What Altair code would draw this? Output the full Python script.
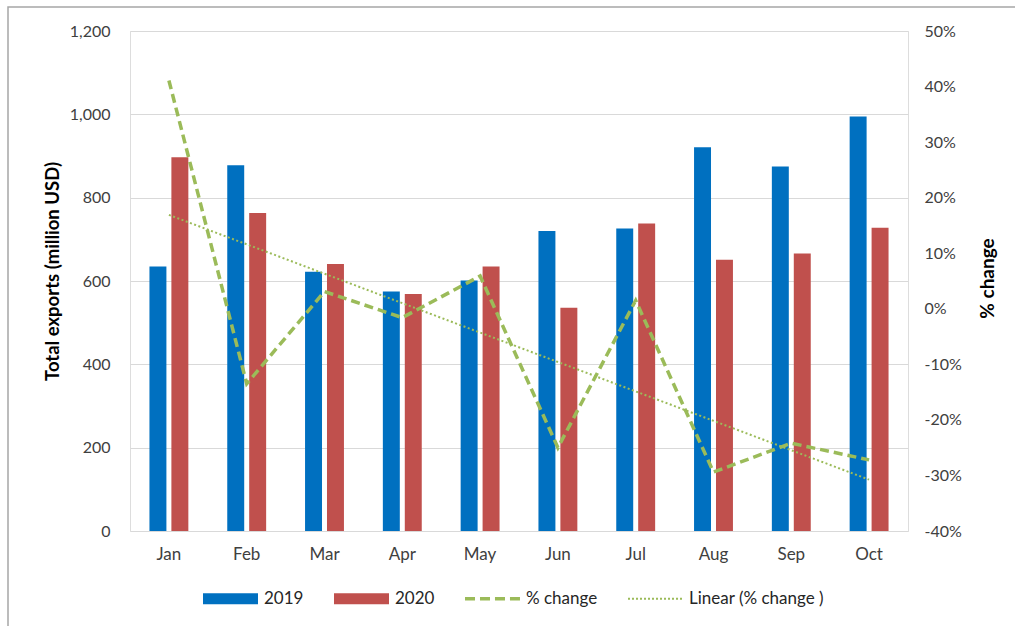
import json
import altair as alt
import pandas as pd

# Monthly exports (million USD) and year-on-year change
months = ["Jan", "Feb", "Mar", "Apr", "May", "Jun", "Jul", "Aug", "Sep", "Oct"]
exports_2019 = [635, 878, 622, 575, 601, 720, 726, 921, 875, 995]
exports_2020 = [897, 763, 641, 569, 635, 536, 738, 651, 666, 728]
pct_change = [0.411, -0.135, 0.031, -0.016, 0.059, -0.250, 0.015, -0.294, -0.242, -0.272]

series_names = ["2019", "2020", "% change", "Linear (% change )"]
series_colors = ["#0070C0", "#C0504D", "#9BBB59", "#9BBB59"]

FONT = "Lato"
TEXT = "#404040"

bars_df = pd.DataFrame({
    "month": months * 2,
    "year": ["2019"] * len(months) + ["2020"] * len(months),
    "value": exports_2019 + exports_2020,
})
pct_df = pd.DataFrame({"month": months, "idx": list(range(1, len(months) + 1)), "pct": pct_change})

x_enc = alt.X(
    "month:N", sort=months, title=None,
    scale=alt.Scale(paddingInner=0.5, paddingOuter=0.25),
    axis=alt.Axis(domain=False, ticks=False, tickSize=0, labelPadding=15, labelAngle=0,
                  labelFontSize=17, labelColor=TEXT, labelFont=FONT),
)

# Legend swatches: a filled block for the bars, dashes and dots for the lines
def rect_path(x0, x1, h):
    return f"M{x0:.3f},{-h:.3f}H{x1:.3f}V{h:.3f}H{x0:.3f}Z"

bar_shape = rect_path(-1, 1, 0.2)
dash_shape = "".join(rect_path(-1 + i * 0.545, -1 + i * 0.545 + 0.364, 0.064) for i in range(4))
dot_shape = "".join(rect_path(-1 + i * 0.1455, -1 + i * 0.1455 + 0.0727, 0.036) for i in range(14))

shape_expr = (
    f"datum.value === '% change' ? '{dash_shape}' : "
    f"(datum.value === 'Linear (% change )' ? '{dot_shape}' : '{bar_shape}')"
)

color_scale = alt.Scale(domain=series_names, range=series_colors)
legend = alt.Legend(
    title=None, orient="none", direction="horizontal", legendX=73, legendY=540,
    symbolSize=3025, labelOffset=6, columnPadding=30, padding=0,
    labelFont=FONT, labelFontSize=17, labelColor="#262626", labelLimit=300,
    symbolType={"expr": shape_expr},
    symbolFillColor={"expr": "scale('color', datum.value)"},
    symbolStrokeWidth=0, symbolOpacity=1,
)

bars = alt.Chart(bars_df).mark_bar().encode(
    x=x_enc,
    xOffset=alt.XOffset("year:N", scale=alt.Scale(paddingInner=0.227, paddingOuter=0)),
    y=alt.Y(
        "value:Q", title="Total exports (million USD)",
        scale=alt.Scale(domain=[0, 1200], nice=False),
        axis=alt.Axis(orient="left", values=[0, 200, 400, 600, 800, 1000, 1200], format=",d",
                      domain=False, ticks=False, tickSize=0, labelPadding=20,
                      grid=True, gridColor="#d9d9d9", gridWidth=1,
                      labelFont=FONT, labelFontSize=16, labelColor=TEXT,
                      titleFont=FONT, titleFontSize=18.5, titleFontWeight="bold", titleColor="#000000",
                      titleAngle=270, titleX=-78, titleY=240, titleAlign="center", titleBaseline="middle"),
    ),
    color=alt.Color("year:N", scale=color_scale, legend=legend),
)

right_axis = alt.Axis(
    orient="right", values=[-0.4, -0.3, -0.2, -0.1, 0, 0.1, 0.2, 0.3, 0.4, 0.5],
    labelExpr="replace(format(datum.value, '.0%'), '\u2212', '-')",
    domain=False, ticks=False, tickSize=0, labelPadding=16, grid=False,
    labelFont=FONT, labelFontSize=16, labelColor=TEXT,
    titleFont=FONT, titleFontSize=19, titleFontWeight="bold", titleColor="#000000",
    titleAngle=270, titleX=79, titleY=247, titleAlign="center", titleBaseline="middle",
)
pct_scale = alt.Scale(domain=[-0.4, 0.5], nice=False)

pct_line = alt.Chart(pct_df).mark_line(strokeWidth=3.5, strokeDash=[9, 5]).encode(
    x=alt.X("month:N", sort=months),
    y=alt.Y("pct:Q", title="% change", scale=pct_scale, axis=right_axis),
    color=alt.datum("% change"),
)

trend = alt.Chart(pct_df).transform_regression(
    "idx", "pct", method="linear"
).transform_calculate(
    month=f"{json.dumps(months)}[round(datum.idx) - 1]"
).mark_line(strokeWidth=2, strokeDash=[2, 2.5]).encode(
    x=alt.X("month:N", sort=months),
    y=alt.Y("pct:Q", title="% change", scale=pct_scale, axis=right_axis),
    color=alt.datum("Linear (% change )"),
)

frame = alt.Chart(pd.DataFrame({"k": [0]})).mark_rect(
    fillOpacity=0, stroke="#a6a6a6", strokeWidth=1.5
).encode(
    x=alt.value(-122), x2=alt.value(1000), y=alt.value(-24), y2=alt.value(700),
)

chart = alt.layer(
    frame, bars, alt.layer(pct_line, trend)
).resolve_scale(
    y="independent"
).properties(
    width=778, height=500,
    padding={"left": 130, "top": 31, "right": 107, "bottom": 95},
    autosize=alt.AutoSizeParams(type="none"),
).configure_view(stroke=None).configure(background="white")

chart.save("out.html", embed_options={"renderer": "svg", "actions": False})
